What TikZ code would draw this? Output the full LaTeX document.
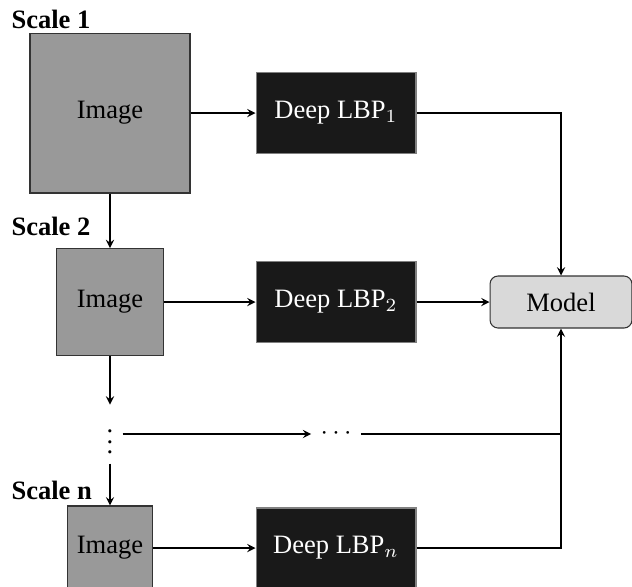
\documentclass[tikz,border=0pt]{standalone}
\usepackage{fontspec}
\setmainfont{Liberation Serif}
\usepackage{tikz}

\begin{document}
\begin{tikzpicture}[
x=0.377pt, y=-0.377pt,
>=stealth,
img/.style={draw=black!80, fill=gray!80, rectangle, inner sep=0pt},
lbp/.style={draw=gray, fill=black!90, text=white, rectangle, inner sep=0pt, minimum width=60.3pt, minimum height=30.2pt},
model/.style={draw=black!80, fill=gray!30, rectangle, rounded corners=3pt, minimum width=53.5pt, minimum height=19.6pt},
scalelabel/.style={anchor=base west, inner sep=0pt, font=\bfseries},
arrow/.style={->}
]
\useasboundingbox (0,0) rectangle (632,586);

\node[scalelabel] (s1) at (11,28) {Scale 1};
\node[scalelabel] (s2) at (11,235) {Scale 2};
\node[scalelabel] (sn) at (11,499) {Scale n};

\node[img, minimum size=60.3pt] (im1) at (110,113) {Image};
\node[img, minimum size=40.3pt] (im2) at (110,302) {Image};
\node[img, minimum size=31.7pt] (imn) at (110,548) {Image};

\node[lbp] (d1) at (336,113) {Deep LBP$_1$};
\node[lbp] (d2) at (336,302) {Deep LBP$_2$};
\node[lbp] (dn) at (336,548) {Deep LBP$_n$};

\node[model] (m) at (561,302) {Model};

\node (vd) at (110,434) {$\vdots$};
\node (hd) at (336,434) {$\cdots$};
\coordinate (j) at (m.south |- vd);

\draw[arrow] (im1) -- (d1);
\draw[arrow] (im2) -- (d2);
\draw[arrow] (imn) -- (dn);
\draw[arrow] (im1) -- (im2);
\draw[arrow] (im2) -- (vd);
\draw[arrow] (vd) -- (imn);
\draw[arrow] (vd) -- (vd -| hd.west);
\draw (hd.east |- vd) -- (j);
\draw (dn) -| (j);
\draw[arrow] (j) -- (m);
\draw[arrow] (d1) -| (m);
\draw[arrow] (d2) -- (m);

\end{tikzpicture}
\end{document}
